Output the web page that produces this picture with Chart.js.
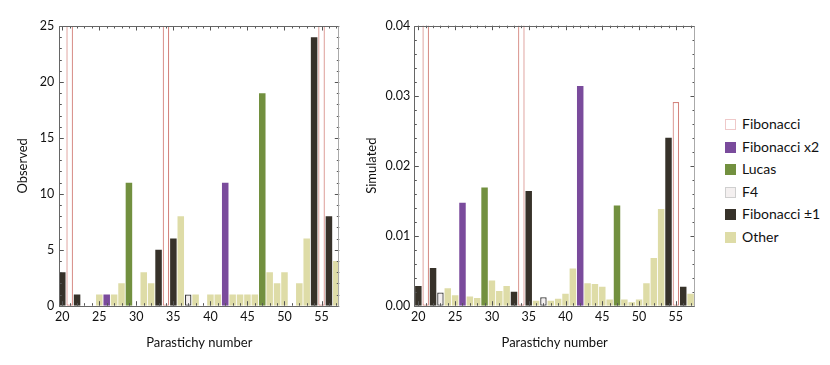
<!DOCTYPE html>
<html><head><meta charset="utf-8">
<script src="https://cdn.jsdelivr.net/npm/chart.js@4.4.1/dist/chart.umd.min.js"></script>
<style>
body{margin:0;background:#fff;width:830px;height:365px;position:relative;overflow:hidden;font-family:Lato,"Open Sans",sans-serif}
#c1{position:absolute;left:0;top:0}
#c2{position:absolute;left:350px;top:0}
#legend{position:absolute;left:725px;top:0}
.item{position:absolute;left:0;height:14px;white-space:nowrap;font-size:14px;color:#111;line-height:14px}
.sw{position:absolute;left:0;top:1px;width:11px;height:11px;box-sizing:border-box}
.lab{position:absolute;left:17px;top:-1px}
</style></head>
<body>
<canvas id="c1" width="345" height="365"></canvas>
<canvas id="c2" width="355" height="365"></canvas>
<div id="legend"></div>
<script>
// ---- data ----
const parastichy = [20,21,22,23,24,25,26,27,28,29,30,31,32,33,34,35,36,37,38,39,40,41,42,43,44,45,46,47,48,49,50,51,52,53,54,55,56,57];
const parastichyType = ['pm1','fib','pm1','f4','other','other','x2','other','other','lucas','other','other','other','pm1','fib','pm1','other','f4','other','other','other','other','x2','other','other','other','other','lucas','other','other','other','other','other','other','pm1','fib','pm1','other'];
const observed = [3,30,1,0,0,1,1,1,2,11,0,3,2,5,30,6,8,1,1,0,1,1,11,1,1,1,1,19,3,2,3,0,2,6,24,30,8,4];
const simulated = [0.0028,0.05,0.0054,0.0019,0.0025,0.0015,0.0147,0.0013,0.0011,0.0169,0.0036,0.0021,0.0028,0.0020,0.05,0.0164,0.0007,0.0012,0.0007,0.0010,0.0017,0.0053,0.0314,0.0032,0.0031,0.0027,0.0009,0.0143,0.0009,0.0005,0.0009,0.0032,0.0068,0.0138,0.0240,0.0291,0.0027,0.0017];
const categoryKeys = ['fib','x2','lucas','f4','pm1','other'];
const categoryNames = ['Fibonacci','Fibonacci x2','Lucas','F4','Fibonacci \u00b11','Other'];
const xTicks = [20,25,30,35,40,45,50,55];
const observedTicks = [0,5,10,15,20,25];
const simulatedTicks = [0,0.01,0.02,0.03,0.04];

// ---- styles ----
const styles = {
  fib:   {bg:'#ffffff', border:'#d4847d', bw:1.2, legendBorder:'#efc9c9'},
  x2:    {bg:'#7a4b9c', border:'#7a4b9c', bw:0},
  lucas: {bg:'#72903f', border:'#72903f', bw:0},
  f4:    {bg:'#f4f0f0', border:'#3a3a3a', bw:1.3, legendBorder:'#cfcfcf'},
  pm1:   {bg:'#37322a', border:'#37322a', bw:0},
  other: {bg:'#dedca7', border:'#dedca7', bw:0}
};

Chart.defaults.font.family = 'Lato, "Open Sans", sans-serif';
Chart.defaults.font.size = 12;
Chart.defaults.color = '#111';

function buildDatasets(values){
  return categoryKeys.map((k,ci)=>({
    label: categoryNames[ci],
    data: values.map((v,i)=> parastichyType[i]===k ? v : null),
    backgroundColor: styles[k].bg,
    borderColor: styles[k].border,
    borderWidth: styles[k].bw,
    borderSkipped: false,
    categoryPercentage: 1,
    barPercentage: 0.88,
    grouped: false,
    clip: 0
  }));
}

const framePlugin = {
  id:'frame',
  afterDatasetsDraw(chart, args, opts){
    const {ctx, chartArea:a, scales:{x,y}} = chart;
    ctx.save();
    ctx.lineWidth = 1;
    ctx.strokeStyle = '#555';
    // ticks
    parastichy.forEach(v=>{
      const px = Math.round(x.getPixelForValue(v))+0.5;
      const len = xTicks.includes(v) ? 4.5 : 2.5;
      ctx.beginPath();
      ctx.moveTo(px, a.bottom); ctx.lineTo(px, a.bottom-len);
      ctx.moveTo(px, a.top); ctx.lineTo(px, a.top+len);
      ctx.stroke();
    });
    for(let i=0;i<=opts.nMinor;i++){
      const v = opts.yMax*i/opts.nMinor;
      const py = Math.round(y.getPixelForValue(v))+0.5;
      const len = (i % 5 === 0) ? 4.5 : 2.5;
      ctx.beginPath();
      ctx.moveTo(a.left, py); ctx.lineTo(a.left+len, py);
      ctx.moveTo(a.right, py); ctx.lineTo(a.right-len, py);
      ctx.stroke();
    }
    // frame
    ctx.strokeStyle = '#666';
    const L = Math.round(a.left)+0.5, R = Math.round(a.right)-0.5, T = Math.round(a.top)+0.5, B = Math.round(a.bottom)+0.5;
    ctx.beginPath();
    ctx.moveTo(L,T); ctx.lineTo(R,T);
    ctx.moveTo(L,B); ctx.lineTo(R,B);
    ctx.moveTo(L,T); ctx.lineTo(L,B);
    ctx.stroke();
    ctx.strokeStyle = '#aaa';
    ctx.beginPath(); ctx.moveTo(R,T); ctx.lineTo(R,B); ctx.stroke();
    ctx.restore();
  }
};

function makeChart(id, values, opt){
  return new Chart(document.getElementById(id), {
    type:'bar',
    data:{ labels: parastichy, datasets: buildDatasets(values) },
    plugins:[framePlugin],
    options:{
      responsive:false, animation:false,
      layout:{ padding:{ left:0, top:opt.top, right:opt.right, bottom:0 } },
      plugins:{ legend:{display:false}, tooltip:{enabled:false}, frame:{ nMinor:opt.nMinor, yMax:opt.yMax } },
      scales:{
        x:{
          type:'linear', min:opt.xMin, max:opt.xMax, offset:false,
          grid:{display:false, drawTicks:false}, border:{display:false},
          afterBuildTicks: s=>{ s.ticks = xTicks.map(v=>({value:v})); },
          afterFit: s=>{ s.height = opt.xAxisH; },
          ticks:{ autoSkip:false, maxRotation:0, padding:4, font:{size:12.5} },
          title:{ display:true, text:'Parastichy number', font:{size:13}, padding:{top:0,bottom:14.5} }
        },
        y:{
          min:0, max:opt.yMax,
          grid:{display:false, drawTicks:false}, border:{display:false},
          afterBuildTicks: s=>{ s.ticks = opt.yTicks.map(v=>({value:v})); },
          afterFit: s=>{ s.width = opt.yAxisW; },
          ticks:{ padding:opt.tickPad, font:{size:12.5}, callback: opt.fmt },
          title:{ display:true, text:opt.title, font:{size:13}, padding:{top:opt.titlePad,bottom:0} }
        }
      }
    }
  });
}

makeChart('c1', observed, {
  top:26, right:5.7, xAxisH:59.3, yAxisW:59.3, xMin:19.6, xMax:57.4,
  yMax:25, nMinor:25, yTicks:observedTicks, tickPad:5, titlePad:15,
  title:'Observed', fmt: v=>String(v)
});
makeChart('c2', simulated, {
  top:25.7, right:10, xAxisH:59.3, yAxisW:64.3, xMin:19.45, xMax:57.6,
  yMax:0.04, nMinor:20, yTicks:simulatedTicks, tickPad:4, titlePad:14,
  title:'Simulated', fmt: v=>Number(v).toFixed(2)
});

// ---- legend ----
const lg = document.getElementById('legend');
categoryKeys.forEach((k,i)=>{
  const it = document.createElement('div');
  it.className='item';
  it.style.top = (118 + i*22.55)+'px';
  const sw = document.createElement('span');
  sw.className='sw';
  sw.style.background = styles[k].bg;
  sw.style.border = '1px solid ' + (styles[k].legendBorder || styles[k].bg);
  const lab = document.createElement('span');
  lab.className='lab';
  lab.textContent = categoryNames[i];
  it.appendChild(sw); it.appendChild(lab);
  lg.appendChild(it);
});
</script>
</body></html>
